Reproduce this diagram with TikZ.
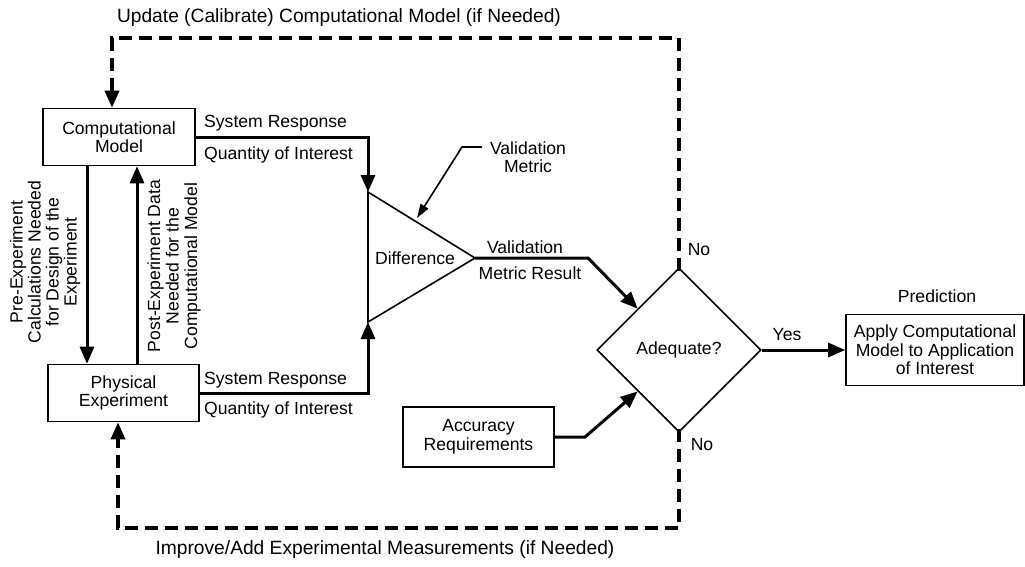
\documentclass[tikz,border=0pt]{standalone}
\usepackage{fontspec}
\setmainfont{Liberation Sans}
\usetikzlibrary{arrows.meta,shapes.geometric}
\begin{document}
\begin{tikzpicture}[x=1pt,y=-1pt,
  every node/.style={font=\fontsize{17.6}{18.5}\selectfont, inner sep=0pt},
  box/.style={draw, line width=1.6pt, align=center},
  flow/.style={line width=3pt, -{Triangle[length=17pt,width=14pt]}},
  leader/.style={line width=1.6pt, -{Triangle[length=14pt,width=9pt]}},
  fb/.style={line width=3.5pt, dash pattern=on 13pt off 7pt, -{Triangle[length=17pt,width=14pt]}},
  title/.style={font=\fontsize{19.2}{20}\selectfont},
  lbl/.style={align=center}]
\useasboundingbox (0,0) rectangle (1025,566);

% boxes
\node[box, minimum width=152pt, minimum height=57pt] (cm) at (119,137) {Computational\\Model};
\node[box, minimum width=151pt, minimum height=57pt] (pe) at (123.5,393) {Physical\\Experiment};
\node[box, minimum width=151pt, minimum height=60pt] (acc) at (478.5,437) {Accuracy\\Requirements};
\node[box, minimum width=178pt, minimum height=71pt] (app) at (935,350) {Apply Computational\\Model to Application\\of Interest};
\node[diamond, draw, line width=1.6pt, minimum width=164pt, minimum height=164pt, inner sep=0pt] (dia) at (679,350) {Adequate?};

% difference triangle
\coordinate (tt) at (368,192);
\coordinate (tb) at (368,322);
\coordinate (ta) at (475,258);
\draw[line width=1.6pt, line join=miter] (tt) -- (ta) -- (tb) -- cycle;
\node (diff) at (415,258) {Difference};

% vertical links between model and experiment
\draw[flow] (cm.south -| 87,0) -- (pe.north -| 87,0);
\draw[flow] (pe.north -| 137,0) -- (cm.south -| 137,0);
\node[lbl, rotate=90, font=\fontsize{17.6}{18}\selectfont] (prelbl) at (45,262) {Pre-Experiment\\Calculations Needed\\for Design of the\\Experiment};
\node[lbl, rotate=90, font=\fontsize{17.6}{18.5}\selectfont] (postlbl) at (174,266) {Post-Experiment Data\\Needed for the\\Computational Model};

% system responses
\draw[flow] (cm.east) -| (tt);
\draw[flow] (pe.east) -| (tb);
\node[anchor=west] (sr1) at (204,123) {System Response};
\node[anchor=west] (qi1) at (204,155) {Quantity of Interest};
\node[anchor=west] (sr2) at (204,380) {System Response};
\node[anchor=west] (qi2) at (204,410) {Quantity of Interest};

% validation metric
\node[lbl] (vm) at (528,157) {Validation\\Metric};
\coordinate (vmk) at (482,147);
\coordinate (vmb) at (462,147);
\coordinate (vmt) at (417,218);
\draw[leader] (vmk) -- (vmb) -- (vmt);

% validation metric result
\coordinate (vr) at (588,258);
\draw[flow] (ta) -- (vr) -- (dia.135);
\node (vr1) at (525,247) {Validation};
\node (vr2) at (530,273) {Metric Result};

% accuracy requirements
\coordinate (ar) at (585,437);
\draw[flow] (acc.east) -- (ar) -- (dia.225);

% yes
\draw[flow] (dia.east) -- (app.west);
\node (yes) at (787,335) {Yes};
\node (pred) at (937,296) {Prediction};

% feedback loops
\coordinate (ut) at (679,38);
\coordinate (ul) at (112,38);
\draw[fb] ([yshift=-4pt]dia.north) -- (ut) -- (ul) -- (ul |- cm.north);
\node[title] (uplbl) at (339,18) {Update (Calibrate) Computational Model (if Needed)};
\node (no1) at (699,250) {No};

\coordinate (bb) at (679,528);
\coordinate (bl) at (118,528);
\draw[fb] ([yshift=4pt]dia.south) -- (bb) -- (bl) -- (bl |- pe.south);
\node[title] (downlbl) at (385,550) {Improve/Add Experimental Measurements (if Needed)};
\node (no2) at (702,445) {No};
\end{tikzpicture}
\end{document}
